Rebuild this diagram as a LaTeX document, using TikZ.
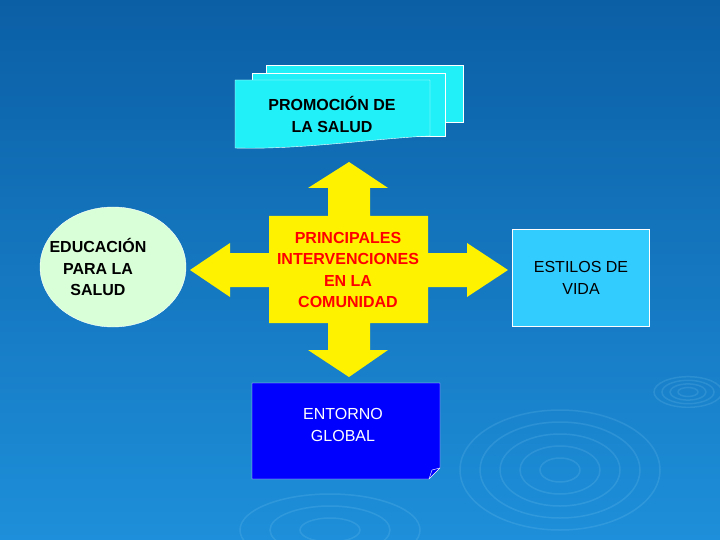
\documentclass[tikz,border=0pt]{standalone}
\usepackage{fontspec}
\usetikzlibrary{shapes.geometric}
\setmainfont{Liberation Sans}
\begin{document}
\begin{tikzpicture}[x=1pt,y=-1pt,
  lbl/.style={font=\fontsize{16}{20}\selectfont, align=center},
  ripple/.style={draw=white!60!cyan, opacity=0.15, line width=1.5pt}]
\definecolor{bgtop}{HTML}{0B5FA5}
\definecolor{bgbot}{HTML}{1E8FDA}
\definecolor{docc}{HTML}{22F0F8}
\definecolor{boxc}{HTML}{33CCFF}
\fill[top color=bgtop, bottom color=bgbot] (0,0) rectangle (720,540);
\useasboundingbox (0,0) rectangle (720,540);
% ripples
\foreach \r in {10,18,26,34} \draw[ripple] (688,392) ellipse ({\r} and {\r*0.45});
\foreach \r in {20,40,60,80,100} \draw[ripple] (560,470) ellipse ({\r} and {\r*0.6});
\foreach \r in {20,40,60} \draw[ripple] (330,530) ellipse ({\r*1.5} and {\r*0.6});
% top document stack
\draw[white, fill=docc] (266,65) rectangle (463,122);
\draw[white, fill=docc] (252,73) rectangle (445,136);
\draw[white, fill=docc] (235,80) -- (430,80) -- (430,136) .. controls (380,138) and (300,150) .. (235,148) -- cycle;
\node[lbl, font=\bfseries\fontsize{16}{22}\selectfont] (promo) at (332,114) {PROMOCIÓN DE\\LA SALUD};
% cross
\fill[yellow] (269,216) -- (328,216) -- (328,188) -- (308,188) -- (349,162) -- (388,188) -- (370,188) -- (370,216)
 -- (428,216) -- (428,253) -- (467,253) -- (467,243) -- (508,270) -- (467,297) -- (467,287) -- (428,287)
 -- (428,323) -- (370,323) -- (370,350) -- (388,350) -- (349,377) -- (308,350) -- (328,350) -- (328,323)
 -- (269,323) -- (269,287) -- (230,287) -- (230,297) -- (190,270) -- (230,243) -- (230,253) -- (269,253) -- cycle;
\node[lbl, text=red, font=\bfseries\fontsize{16}{21.5}\selectfont] (cross) at (348,270) {PRINCIPALES\\INTERVENCIONES\\EN LA\\COMUNIDAD};
% ellipse
\node[ellipse, draw=white, fill=green!15, minimum width=146, minimum height=120, inner sep=0] (edu) at (113,267) {};
\node[lbl, font=\bfseries\fontsize{16}{21.5}\selectfont] (edutext) at (98,267) {EDUCACIÓN\\PARA LA\\SALUD};
% right box
\node[draw=white, fill=boxc, minimum width=137, minimum height=97, inner sep=0,
  lbl, font=\fontsize{16}{22}\selectfont] (estilos) at (581,278) {ESTILOS DE\\VIDA};
% bottom box
\draw[white, fill=blue] (252,383) -- (440,383) -- (440,468) -- (429,479) -- (252,479) -- cycle;
\draw[white] (440,468) -- (432,470) -- (429,479);
\node[lbl, text=white, font=\fontsize{16}{22}\selectfont] (entorno) at (343,425) {ENTORNO\\GLOBAL};
\end{tikzpicture}
\end{document}
